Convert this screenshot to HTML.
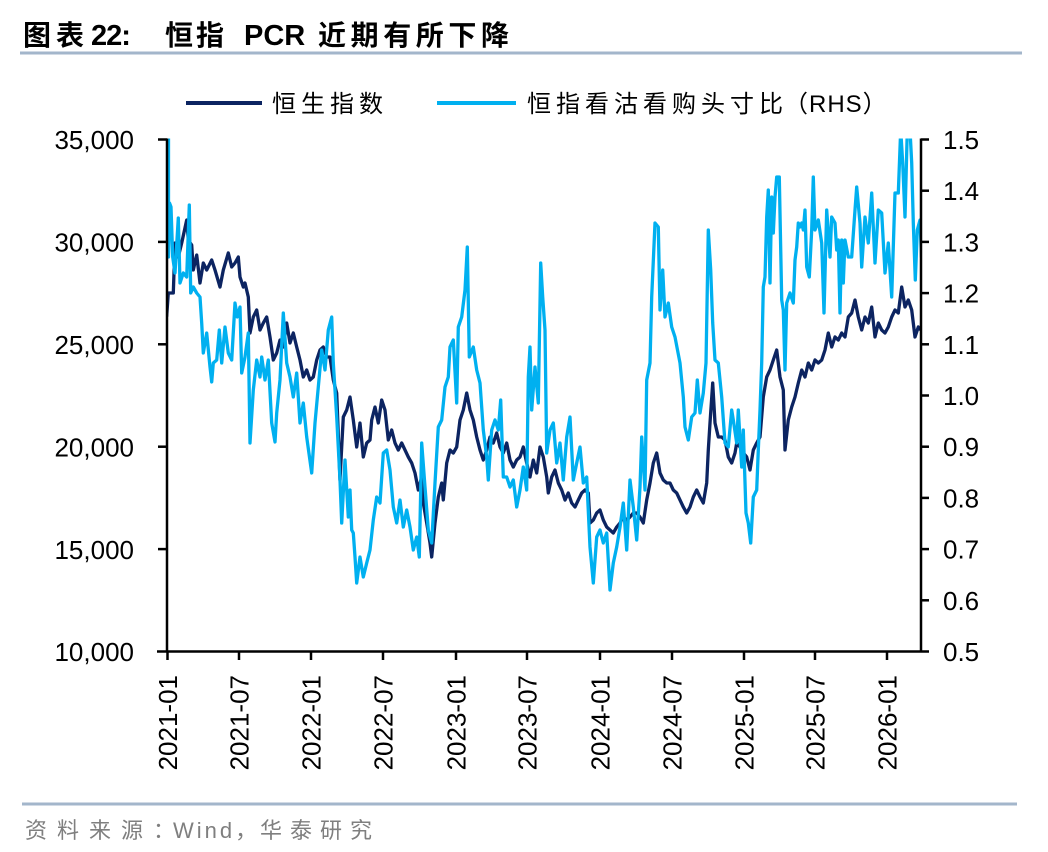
<!DOCTYPE html>
<html><head><meta charset="utf-8"><style>
html,body{margin:0;padding:0;background:#fff;}
svg{display:block;}
</style></head><body>
<svg width="1048" height="852" viewBox="0 0 1048 852" xmlns="http://www.w3.org/2000/svg">
<rect x="0" y="0" width="1048" height="852" fill="#fff"/>
<!-- Title -->
<g font-weight="bold" fill="#000">
<text x="23" y="45" font-size="28" font-family="'Liberation Sans','Noto Sans CJK SC',sans-serif" letter-spacing="5">图表</text>
<text x="91" y="45" font-size="29" font-family="'Liberation Sans',sans-serif" letter-spacing="-1">22:</text>
<text x="165" y="45" font-size="28" font-family="'Liberation Sans','Noto Sans CJK SC',sans-serif" letter-spacing="3">恒指</text>
<text x="244" y="45" font-size="29" font-family="'Liberation Sans',sans-serif">PCR</text>
<text x="318" y="45" font-size="28" font-family="'Liberation Sans','Noto Sans CJK SC',sans-serif" letter-spacing="4.6">近期有所下降</text>
</g>
<line x1="20" y1="53" x2="1022" y2="53" stroke="#a3b6cb" stroke-width="3"/>

<!-- Legend -->
<line x1="186" y1="103" x2="262" y2="103" stroke="#0c2461" stroke-width="4"/>
<text x="272" y="112" font-size="24" font-family="'Liberation Sans','Noto Sans CJK SC',sans-serif" letter-spacing="5" fill="#000">恒生指数</text>
<line x1="437" y1="103" x2="516" y2="103" stroke="#00b0f0" stroke-width="4"/>
<text x="527" y="112" font-size="24" font-family="'Liberation Sans','Noto Sans CJK SC',sans-serif" letter-spacing="5" fill="#000">恒指看沽看购头寸比</text>
<text x="784" y="112" font-size="24" font-family="'Liberation Sans','Noto Sans CJK SC',sans-serif" letter-spacing="1" fill="#000">（RHS）</text>

<!-- Left y labels -->
<g font-family="'Liberation Sans',sans-serif" font-size="26" fill="#000" text-anchor="end">
<text x="134" y="149">35,000</text>
<text x="134" y="251.5">30,000</text>
<text x="134" y="354">25,000</text>
<text x="134" y="456.5">20,000</text>
<text x="134" y="559">15,000</text>
<text x="134" y="661">10,000</text>
</g>
<!-- Right y labels -->
<g font-family="'Liberation Sans',sans-serif" font-size="26" fill="#000" text-anchor="start">
<text x="943" y="149">1.5</text>
<text x="943" y="200.2">1.4</text>
<text x="943" y="251.4">1.3</text>
<text x="943" y="302.6">1.2</text>
<text x="943" y="353.8">1.1</text>
<text x="943" y="405">1.0</text>
<text x="943" y="456.2">0.9</text>
<text x="943" y="507.4">0.8</text>
<text x="943" y="558.6">0.7</text>
<text x="943" y="609.8">0.6</text>
<text x="943" y="661">0.5</text>
</g>

<defs><clipPath id="pc"><rect x="166" y="138.5" width="756" height="514"/></clipPath></defs>

<g clip-path="url(#pc)" fill="none" stroke-linejoin="round" stroke-linecap="round">
<polyline stroke="#0c2461" stroke-width="3.3" points="166.7,316 168.3,293 173.3,293 175,243 178.3,257 181.7,243 186.7,220 188.3,240 191.7,245 193.3,270 196.7,255 200,283 203.3,263 206.7,270 211.7,260 215,270 220,287 223.3,270 228.3,253 231.7,267 235,263 238.3,257 240,277 243.3,287 245,283 248.3,297 250,333 253.3,317 256.7,310 260,330 263.3,323 266.7,317 270,337 273.3,360 276.7,353 280,340 283.3,347 286.7,323 290,343 293.3,333 296.7,347 300,360 303.3,377 306.7,370 310,380 313.3,377 316.7,360 320,350 323.3,347 326.7,357 330,357 333.3,380 336.7,393 340,480 341.7,447 343.3,417 346.7,410 350,397 353.3,420 356.7,447 360,423 363.3,457 366.7,443 370,440 371.7,420 375,407 378.3,423 381.7,400 385,410 388.3,440 391.7,430 395,443 398.3,450 401.7,443 405,450 408.3,457 411.7,463 415,473 418.3,490 421.7,477 423.3,503 426.7,523 430,543 431.7,557 435,523 438.3,497 441.7,483 443.3,500 446.7,463 450,450 453.3,453 456.7,447 460,420 463.3,410 466.7,393 470,410 473.3,420 476.7,437 480,450 483.3,460 486.7,450 490,437 493.3,443 496.7,433 500,447 503.3,453 506.7,443 510,460 513.3,467 516.7,460 520,457 523.3,447 526.7,463 530,477 533.3,460 536.7,473 540,447 543.3,457 546.7,477 548.3,493 551.7,477 555,470 558.3,483 561.7,490 565,500 568.3,493 571.7,503 575,507 578.3,500 581.7,493 585,490 588.3,493 590,523 593.3,520 596.7,513 600,510 603.3,520 606.7,527 610,530 613.3,533 616.7,527 620,523 623.3,517 626.7,520 630,517 633.3,513 636.7,513 640,517 643.3,523 646.7,500 650,483 653.3,463 656.7,453 660,473 663.3,480 666.7,483 670,483 673.3,490 676.7,493 680,500 683.3,507 686.7,513 690,507 693.3,497 696.7,490 700,497 703.3,503 706.7,483 708.3,450 710,423 712.7,383 715,423 718.3,437 721.7,437 725,440 728.3,457 731.7,463 735,453 736.7,443 740,447 743.3,453 746.7,457 750,470 753.3,450 756.7,443 760,437 763.3,397 766.7,377 770,370 773.3,360 776.7,350 780,377 783.3,390 785,450 788.3,420 791.7,407 795,397 798.3,383 801.7,370 805,377 808.3,363 811.7,370 815,360 818.3,363 821.7,360 825,350 828.3,333 831.7,347 835,337 838.3,340 841.7,333 845,337 848.3,317 851.7,313 855,300 858.3,317 861.7,330 865,317 868.3,323 871.7,307 875,337 878.3,323 881.7,330 885,333 888.3,327 891.7,317 895,310 898.3,313 901.7,287 905,307 908.3,300 911.7,310 915,337 918.3,327 921,330"/>
<polyline stroke="#00b0f0" stroke-width="3.3" points="168.5,130 168.5,257 169.5,203 171,207 172.7,257 175,273 178.3,218 180,283 183.3,273 186.7,277 189.3,205 190.7,293 193.3,287 196.7,293 200,297 201.7,323 203.3,353 206.7,333 210,367 211.7,382 213.3,363 216.7,360 219.3,330 221.7,363 225,327 228.3,353 231.7,360 235,303 237.3,317 240,307 241.7,373 245,357 248.3,333 250,443 253.3,390 256.7,360 260,377 261.7,357 265,380 268.3,360 271.7,423 275,442 276.7,413 280,380 283.3,313 286.7,363 290,377 293.3,397 296.7,373 300,423 303.3,403 306.7,437 311.7,473 315,423 318.3,387 321.7,350 325,370 328.3,330 331.7,317 333.3,363 336.7,417 340,480 341.7,523 345,460 348.3,517 350,490 351.7,530 353.3,533 355,557 356.7,583 360,557 363.3,577 366.7,563 370,550 373.3,520 376.7,497 380,503 383.3,453 386.7,450 390,470 393.3,507 396.7,523 400,500 403.3,527 406.7,510 410,527 413.3,550 416.7,537 419.3,557 421.7,443 425,487 428.3,530 431.7,543 435,483 438.3,427 441.7,420 445,387 448.3,377 450,347 453.3,340 456.7,403 458.3,327 461.7,317 465,290 467.3,247 469.3,357 473.3,347 476.7,370 480,383 483.3,430 486.7,457 488.3,480 491.7,430 495,420 498.3,430 500.7,400 503.3,477 506.7,477 510,487 513.3,480 516.7,507 520,490 523.3,467 526.7,490 528.3,377 530,347 531.7,410 535,367 538.3,403 540.7,263 542.7,297 545,330 546.7,453 550,430 553.3,423 556.7,463 560,443 563.3,480 566.7,437 570,417 573.3,480 576.7,463 580,447 583.3,483 586.7,477 590,547 593.3,583 596.7,537 600,530 603.3,543 606.7,533 610,590 613.3,563 616.7,547 620,527 623.3,503 626.7,550 630,480 633.3,507 636.7,540 640,487 641.7,437 645,490 646.7,380 650,363 651.7,297 655,223 658.3,227 660,310 662.7,270 665,317 668.3,303 671.7,327 675,337 680,363 683.3,397 685,427 688.3,440 691.7,417 695,413 697.3,380 700,413 703.3,393 706,363 708.3,230 710.7,270 712.7,323 715,360 718.3,363 721.7,397 725,443 728.3,447 731.7,410 733.3,420 736.7,443 738.3,410 741.7,467 743.3,430 746,513 748.3,523 750.7,543 753.3,497 756.7,490 758.3,450 760,410 761.7,363 763.3,287 765,277 766.7,217 768.3,190 770,283 771.7,197 773.3,233 775,197 776.7,177 779.3,177 781.7,300 783.3,310 785,370 786.7,303 790,293 793.3,303 795,260 796.7,247 798.3,223 800,227 801.7,223 803.3,230 805,210 806.7,267 809.3,277 811.7,230 813.3,177 815,230 818.3,220 821.7,243 824,313 826.7,210 830,257 831.7,217 835,223 836.7,250 838.3,240 840,313 841.7,240 843.3,283 845,240 848.3,257 851.7,257 855,210 856.7,187 860,223 861.7,267 865,217 868.3,243 871.7,193 875,263 878.3,210 881.7,213 885,273 888.3,243 891.7,297 895,193 898.3,193 900.7,130 902.7,163 905,217 907.3,130 910,130 911.7,163 913.3,223 915.3,280 917.3,230 920,220 921.5,257"/>
</g>

<!-- Axes -->
<g stroke="#000" stroke-width="2.5" fill="none">
<line x1="167" y1="138.5" x2="167" y2="652.5"/>
<line x1="921" y1="138.5" x2="921" y2="652.5"/>
<line x1="157" y1="651.5" x2="929" y2="651.5"/>
<line x1="158" y1="139.5" x2="167" y2="139.5"/>
<line x1="158" y1="241.9" x2="167" y2="241.9"/>
<line x1="158" y1="344.3" x2="167" y2="344.3"/>
<line x1="158" y1="446.7" x2="167" y2="446.7"/>
<line x1="158" y1="549.1" x2="167" y2="549.1"/>
<line x1="921" y1="139.5" x2="929" y2="139.5"/>
<line x1="921" y1="190.7" x2="929" y2="190.7"/>
<line x1="921" y1="241.9" x2="929" y2="241.9"/>
<line x1="921" y1="293.1" x2="929" y2="293.1"/>
<line x1="921" y1="344.3" x2="929" y2="344.3"/>
<line x1="921" y1="395.5" x2="929" y2="395.5"/>
<line x1="921" y1="446.7" x2="929" y2="446.7"/>
<line x1="921" y1="497.9" x2="929" y2="497.9"/>
<line x1="921" y1="549.1" x2="929" y2="549.1"/>
<line x1="921" y1="600.3" x2="929" y2="600.3"/>
<line x1="167.5" y1="651.5" x2="167.5" y2="660"/>
<line x1="239" y1="651.5" x2="239" y2="660"/>
<line x1="311" y1="651.5" x2="311" y2="660"/>
<line x1="383" y1="651.5" x2="383" y2="660"/>
<line x1="456" y1="651.5" x2="456" y2="660"/>
<line x1="527" y1="651.5" x2="527" y2="660"/>
<line x1="600" y1="651.5" x2="600" y2="660"/>
<line x1="672" y1="651.5" x2="672" y2="660"/>
<line x1="744" y1="651.5" x2="744" y2="660"/>
<line x1="815" y1="651.5" x2="815" y2="660"/>
<line x1="887" y1="651.5" x2="887" y2="660"/>
</g>

<!-- X labels -->
<g font-family="'Liberation Sans',sans-serif" font-size="26" fill="#000" text-anchor="end">
<text transform="translate(177,675) rotate(-90)">2021-01</text>
<text transform="translate(248.5,675) rotate(-90)">2021-07</text>
<text transform="translate(320.5,675) rotate(-90)">2022-01</text>
<text transform="translate(392.5,675) rotate(-90)">2022-07</text>
<text transform="translate(465.5,675) rotate(-90)">2023-01</text>
<text transform="translate(536.5,675) rotate(-90)">2023-07</text>
<text transform="translate(609.5,675) rotate(-90)">2024-01</text>
<text transform="translate(681.5,675) rotate(-90)">2024-07</text>
<text transform="translate(753.5,675) rotate(-90)">2025-01</text>
<text transform="translate(824.5,675) rotate(-90)">2025-07</text>
<text transform="translate(896.5,675) rotate(-90)">2026-01</text>
</g>

<!-- Footer -->
<line x1="22" y1="804" x2="1017" y2="804" stroke="#a3b6cb" stroke-width="3"/>
<g font-family="'Liberation Sans','Noto Sans CJK SC',sans-serif" font-size="22" fill="#7f7f7f">
<text x="25" y="838" letter-spacing="10">资料来源：</text>
<text x="173" y="838" letter-spacing="3">Wind，</text>
<text x="260" y="838" letter-spacing="8">华泰研究</text>
</g>
</svg>
</body></html>
